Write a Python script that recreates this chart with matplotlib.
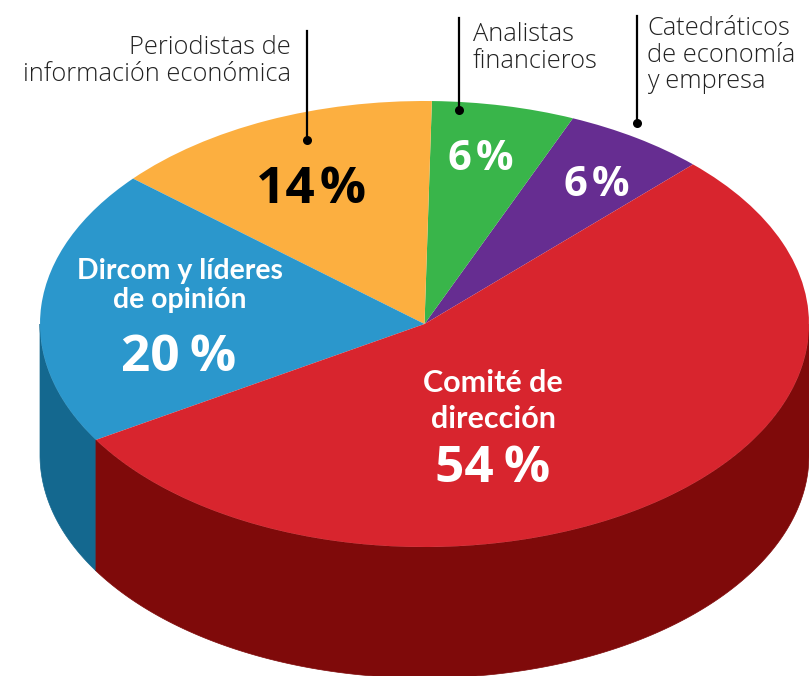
import numpy as np
import matplotlib
matplotlib.use("Agg")
import matplotlib.pyplot as plt

W, H = 809, 676
categories = ["Catedráticos de economía y empresa", "Analistas financieros",
              "Periodistas de información económica", "Dircom y líderes de opinión",
              "Comité de dirección"]
values = [6, 6, 14, 20, 54]
pct_labels = ["6\u200a%", "6\u200a%", "14\u200a%", "20\u2009%", "54\u2009%"]
top_colors = ["#662D91", "#39B54A", "#FCAF40", "#2B97CC", "#D8252E"]
side_colors = ["#4a2069", "#2a8537", "#b97f2a", "#14688F", "#7F0A0A"]

CX, CY, RX, RY, DEPTH = 424.5, 324.0, 384.5, 223.0, 131.0
START = 45.7

plt.rcParams["font.family"] = ["Lato", "DejaVu Sans"]
fig = plt.figure(figsize=(W / 100, H / 100), dpi=100)
ax = fig.add_axes([0, 0, 1, 1])

# side wall
edges = START + np.cumsum([0] + values) * 360.0 / sum(values)
for i, c in enumerate(side_colors):
    a0, a1 = edges[i], edges[i + 1]
    for shift in (0, 360):
        lo, hi = max(a0, 180 + shift), min(a1, 360 + shift)
        if lo < hi:
            t = np.radians(np.linspace(lo, hi, 200))
            x, y = np.cos(t), np.sin(t)
            d = DEPTH / RY
            ax.fill(np.r_[x, x[::-1]], np.r_[y, y[::-1] - d], color=c, lw=0.5, zorder=1)

ax.pie(values, colors=top_colors, startangle=START, counterclock=True, radius=1.0,
       wedgeprops={"linewidth": 0, "zorder": 2})
ax.set_aspect("auto")
ax.set_xlim((0 - CX) / RX, (W - CX) / RX)
ax.set_ylim((CY - H) / RY, CY / RY)
ax.axis("off")


def T(x, y, s, **kw):
    fig.text(x / W, 1 - y / H, s, ha=kw.pop("ha", "center"), va="baseline", **kw)


LBL = dict(family=["Open Sans", "DejaVu Sans"], fontsize=18.3, fontweight="light", color="#222222")
T(291, 54, "Periodistas de", ha="right", **LBL)
T(291, 81, "información económica", ha="right", **LBL)
T(473, 41, "Analistas", ha="left", **LBL)
T(473, 68, "financieros", ha="left", **LBL)
T(647, 35, "Catedráticos", ha="left", **LBL)
T(647, 62, "de economía", ha="left", **LBL)
T(647, 88, "y empresa", ha="left", **LBL)

for x, y0, y1 in [(307, 31, 140), (459, 18, 110), (637, 16, 123)]:
    fig.add_artist(plt.Line2D([x / W, x / W], [1 - y0 / H, 1 - y1 / H], color="black", lw=1.6))
    fig.add_artist(plt.Line2D([x / W], [1 - y1 / H], marker="o", ms=6.5, color="black", mew=0))

PCT = dict(family=["Open Sans", "DejaVu Sans"], fontweight="bold")
T(180, 279, "Dircom y líderes", fontsize=20.4, fontweight="bold", color="white")
T(180, 308, "de opinión", fontsize=20.4, fontweight="bold", color="white")
T(179, 371, pct_labels[3], fontsize=37, color="white", **PCT)
T(493, 392, "Comité de", fontsize=22, fontweight="bold", color="white")
T(493, 428, "dirección", fontsize=22, fontweight="bold", color="white")
T(493, 482, pct_labels[4], fontsize=37, color="white", **PCT)
T(311, 203, pct_labels[2], fontsize=37, color="black", **PCT)
T(481, 170, pct_labels[1], fontsize=30, color="white", **PCT)
T(597, 196, pct_labels[0], fontsize=30, color="white", **PCT)

fig.savefig("out.png", dpi=100)
